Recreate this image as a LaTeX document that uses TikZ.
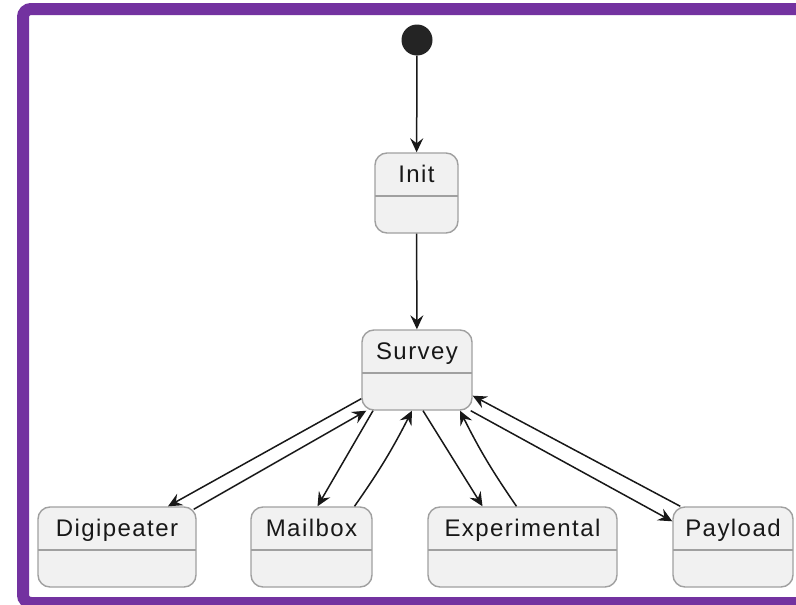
\documentclass[tikz,border=0pt]{standalone}
\usepackage{fontspec}
\newfontfamily\statefont{Liberation Sans}[LetterSpace=6]
\usetikzlibrary{arrows.meta}

\definecolor{framepurple}{RGB}{115,50,160}
\definecolor{statefill}{RGB}{241,241,241}
\definecolor{stateline}{RGB}{160,160,160}
\definecolor{inkline}{RGB}{24,24,24}

\tikzset{
    state/.style={draw=stateline, fill=statefill, line width=1.4pt, rounded corners=12pt,
        minimum height=80pt, inner xsep=8pt, inner ysep=0pt, text height=29pt, text depth=51pt,
        font=\statefont\fontsize{24}{28}\selectfont, text=inkline,
        path picture={\draw [stateline, line width=1.4pt]
            ([yshift=-43pt]path picture bounding box.north west) --
            ([yshift=-43pt]path picture bounding box.north east);}},
    startdot/.style={circle, fill=inkline!95!white, minimum size=31pt, inner sep=0pt},
    trans/.style={-{Stealth[length=14pt, width=13pt, inset=5pt]}, draw=inkline, line width=1.5pt}
}

\begin{document}
\begin{tikzpicture}[x=1pt, y=-1pt]
    \useasboundingbox (0, 0) rectangle (796, 605);
    \clip (0, 0) rectangle (796, 605);
    \fill [white] (0, 0) rectangle (796, 605);
    \draw [framepurple, line width=12pt, rounded corners=8pt] (23, 9) rectangle (806, 603);

    \node[startdot] (start) at (417, 40) {};
    \node[state, minimum width=83pt] (init) at (416.5, 193) {Init};
    \node[state, minimum width=110pt] (survey) at (417, 370) {Survey};
    \node[state, minimum width=158pt] (digi) at (117, 547) {Digipeater};
    \node[state, minimum width=121pt] (mailbox) at (311.5, 547) {Mailbox};
    \node[state, minimum width=189pt] (exper) at (522.5, 547) {Experimental};
    \node[state, minimum width=120pt] (payload) at (733, 547) {Payload};

    \draw [trans] (start) -- (init);
    \draw [trans] (init) -- (survey);

    \draw [trans] ([yshift=12pt]survey.south west) -- ([xshift=51pt]digi.north);
    \draw [trans] ([xshift=-3pt, yshift=-3pt]digi.north east) -- ([xshift=5pt]survey.south west);

    \draw [trans] ([xshift=-44pt]survey.south) -- ([xshift=6pt]mailbox.north);
    \draw [trans] ([xshift=43pt]mailbox.north) to[bend right=4] ([xshift=-5pt]survey.south);

    \draw [trans] ([xshift=6pt]survey.south) -- ([xshift=-40pt]exper.north);
    \draw [trans] ([xshift=-6pt]exper.north) to[bend left=4] ([xshift=43pt]survey.south);

    \draw [trans] ([xshift=-2pt]survey.south east) -- ([yshift=-15pt]payload.north west);
    \draw [trans] ([xshift=8pt]payload.north west) -- ([yshift=15pt]survey.south east);
\end{tikzpicture}
\end{document}
